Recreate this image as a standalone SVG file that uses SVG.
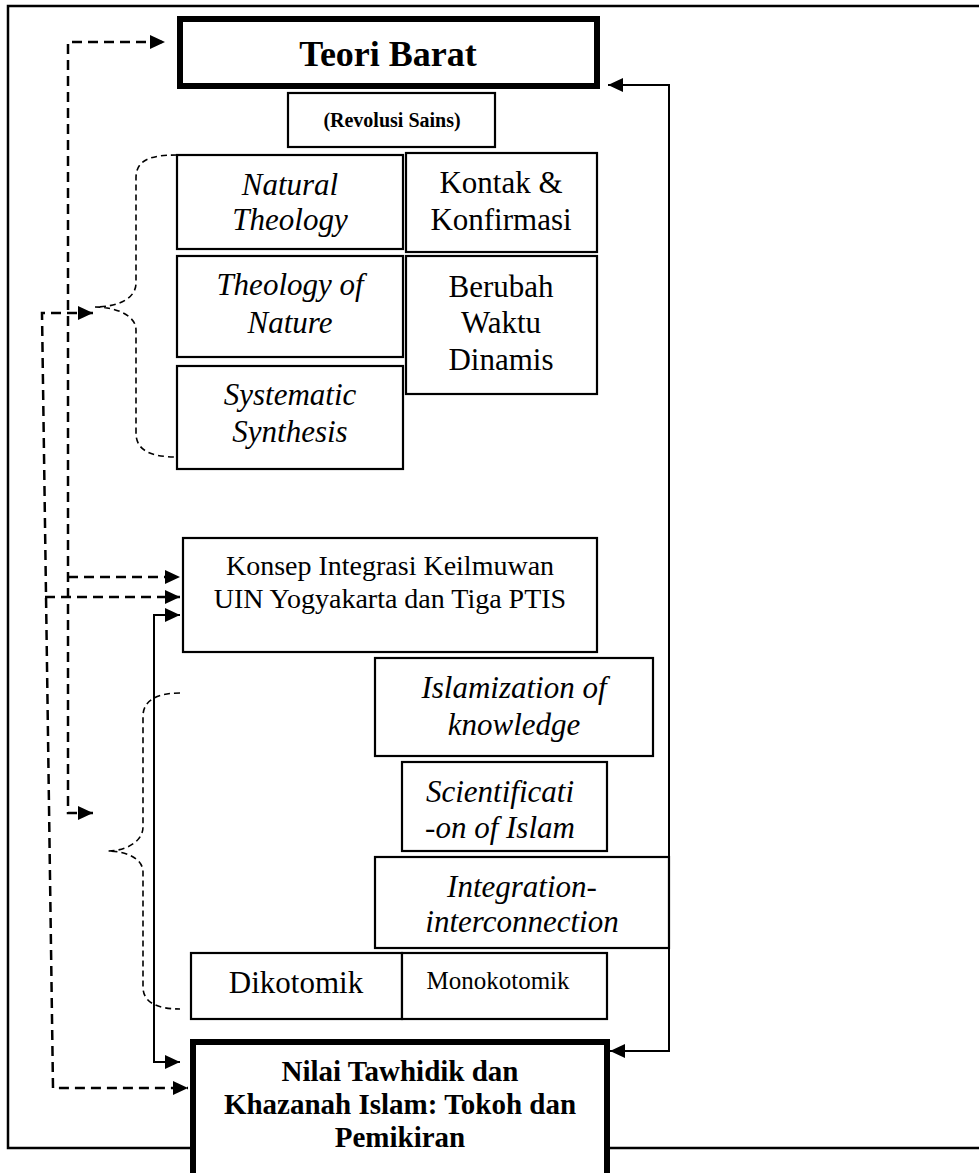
<svg xmlns="http://www.w3.org/2000/svg" width="979" height="1173" viewBox="0 0 979 1173">
<style>
  text { font-family: "Liberation Serif", "Times New Roman", serif; fill: #000; text-anchor: middle; }
  .box { fill: #fff; stroke: #000; stroke-width: 2.2; }
  .thick { fill: #fff; stroke: #000; stroke-width: 6; }
  .t31 { font-size: 31px; }
  .it { font-style: italic; }
  .dash { fill: none; stroke: #000; stroke-width: 2.5; stroke-dasharray: 10 6; }
  .brace { fill: none; stroke: #000; stroke-width: 1.6; stroke-dasharray: 6 4; }
  .solid { fill: none; stroke: #000; stroke-width: 2; }
  .frame { fill: none; stroke: #000; stroke-width: 2.5; }
</style>
<defs>
  <marker id="arr" viewBox="0 0 15 14" refX="15" refY="7" markerWidth="15" markerHeight="14" markerUnits="userSpaceOnUse" orient="auto-start-reverse">
    <path d="M0,0 L15,7 L0,14 z" fill="#000"/>
  </marker>
</defs>
<rect width="979" height="1173" fill="#fff"/>
<path class="frame" d="M990,6 H8 V1148 H990"/>

<g id="connectors">
  <path class="brace" d="M177,155 C150,155 136,160 136,178 V283 C136,300 115,307 95,307 C115,307 136,315 136,330 V433 C136,450 150,457 177,457"/>
  <path class="brace" d="M180,693 C158,693 143,700 143,716 V827 C143,842 125,851 108,851 C125,851 143,858 143,872 V987 C143,1003 158,1009 180,1009"/>
  <path class="dash" d="M93,813 H68 V42 H165" marker-start="url(#arr)" marker-end="url(#arr)"/>
  <path class="dash" d="M68,577 H180" marker-end="url(#arr)"/>
  <path class="dash" d="M93,313 H42 L53,1088 H188" marker-start="url(#arr)" marker-end="url(#arr)"/>
  <path class="dash" d="M45,597 H180" marker-end="url(#arr)"/>
  <path class="solid" d="M180,615 H154 V1062 H180" marker-start="url(#arr)" marker-end="url(#arr)"/>
  <path class="solid" d="M608,85 H669 V1051 H610" marker-start="url(#arr)" marker-end="url(#arr)"/>
</g>

<g id="teori-barat">
  <rect class="thick" x="180" y="19" width="417" height="67"/>
  <text x="388" y="66" font-size="36" font-weight="bold">Teori Barat</text>
</g>
<g id="revolusi-sains">
  <rect class="box" x="288" y="93" width="207" height="54"/>
  <text x="392" y="127" font-size="20" font-weight="bold">(Revolusi Sains)</text>
</g>
<g id="natural-theology">
  <rect class="box" x="177" y="155" width="226" height="94"/>
  <text class="t31 it" x="290" y="195">Natural</text>
  <text class="t31 it" x="290" y="230">Theology</text>
</g>
<g id="theology-of-nature">
  <rect class="box" x="177" y="256" width="226" height="101"/>
  <text class="t31 it" x="290" y="295">Theology of</text>
  <text class="t31 it" x="290" y="333">Nature</text>
</g>
<g id="systematic-synthesis">
  <rect class="box" x="177" y="366" width="226" height="103"/>
  <text class="t31 it" x="290" y="405">Systematic</text>
  <text class="t31 it" x="290" y="442">Synthesis</text>
</g>
<g id="kontak-konfirmasi">
  <rect class="box" x="406" y="153" width="191" height="99"/>
  <text class="t31" x="501" y="193">Kontak &amp;</text>
  <text class="t31" x="501" y="230">Konfirmasi</text>
</g>
<g id="berubah-waktu-dinamis">
  <rect class="box" x="406" y="256" width="191" height="138"/>
  <text class="t31" x="501" y="297">Berubah</text>
  <text class="t31" x="501" y="333">Waktu</text>
  <text class="t31" x="501" y="370">Dinamis</text>
</g>
<g id="konsep-integrasi">
  <rect class="box" x="183" y="538" width="414" height="114"/>
  <text x="390" y="575" font-size="28">Konsep Integrasi Keilmuwan</text>
  <text x="390" y="608" font-size="28">UIN Yogyakarta dan Tiga PTIS</text>
</g>
<g id="islamization">
  <rect class="box" x="375" y="658" width="278" height="98"/>
  <text class="t31 it" x="514" y="698">Islamization of</text>
  <text class="t31 it" x="514" y="735">knowledge</text>
</g>
<g id="scientification">
  <rect class="box" x="402" y="762" width="205" height="89"/>
  <text class="t31 it" x="500" y="802">Scientificati</text>
  <text class="t31 it" x="500" y="838">-on of Islam</text>
</g>
<g id="integration">
  <rect class="box" x="375" y="857" width="294" height="91"/>
  <text class="t31 it" x="522" y="897">Integration-</text>
  <text class="t31 it" x="522" y="932">interconnection</text>
</g>
<g id="dikotomik">
  <rect class="box" x="191" y="953" width="211" height="66"/>
  <text x="296" y="993" font-size="31">Dikotomik</text>
</g>
<g id="monokotomik">
  <rect class="box" x="402" y="953" width="205" height="66"/>
  <text x="498" y="989" font-size="25">Monokotomik</text>
</g>
<g id="nilai-tawhidik">
  <rect class="thick" x="193" y="1042" width="414" height="150"/>
  <text x="400" y="1081" font-size="29" font-weight="bold">Nilai Tawhidik dan</text>
  <text x="400" y="1114" font-size="29" font-weight="bold">Khazanah Islam: Tokoh dan</text>
  <text x="400" y="1147" font-size="29" font-weight="bold">Pemikiran</text>
</g>
</svg>
